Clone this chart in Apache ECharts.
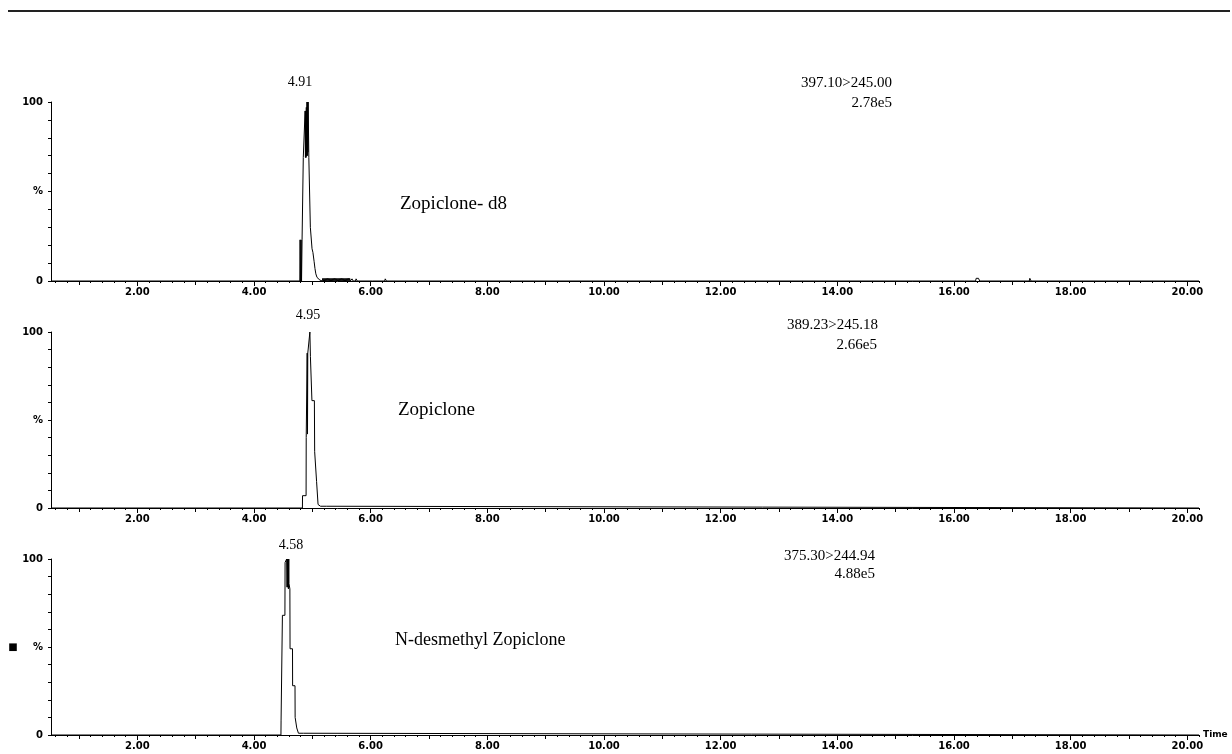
<!DOCTYPE html>
<html>
<head>
<meta charset="utf-8">
<script src="https://cdn.jsdelivr.net/npm/echarts@6/dist/echarts.min.js"></script>
<style>
html,body{margin:0;padding:0;background:#fff;}
#chart{width:1232px;height:754px;}
</style>
</head>
<body>
<div id="chart"></div>
<script>
// ---- data (time in min, relative intensity %) ----
const timeTicks = [2, 4, 6, 8, 10, 12, 14, 16, 18, 20];
const yTickLabels = { 0: '0', 50: '%', 100: '100' };

const compoundNames = ['Zopiclone- d8', 'Zopiclone', 'N-desmethyl Zopiclone'];
const peakTimes = ['4.91', '4.95', '4.58'];
const transitions = ['397.10>245.00', '389.23>245.18', '375.30>244.94'];
const maxIntensities = ['2.78e5', '2.66e5', '4.88e5'];

const zopicloneD8 = [
  [0.52,0],[4.785,0],[4.79,23],[4.798,0],[4.807,23],[4.815,0],[4.824,23],[4.84,23],[4.845,69],
  [4.872,69],[4.876,95],[4.882,69],[4.887,95],[4.893,69],[4.897,97],[4.903,70],[4.908,100],
  [4.914,70],[4.918,100],[4.924,72],[4.928,100],[4.935,100],[4.94,69],[4.962,69],[4.966,30],
  [4.99,30],[4.995,18],[5.01,16],[5.03,11],[5.045,7],[5.06,4],[5.08,2],[5.10,1],[5.13,0.5],
  [5.14,1.5],[5.15,0],[5.16,1.5],[5.17,0],[5.18,1.5],[5.19,0],[5.20,1.5],[5.21,0],[5.22,1.5],
  [5.23,0],[5.24,1.5],[5.25,0],[5.26,1.5],[5.27,0],[5.28,1.5],[5.29,0],[5.30,1.5],[5.31,0],
  [5.32,1.5],[5.33,0],[5.34,1.5],[5.35,0],[5.36,1.5],[5.37,0],[5.38,1.5],[5.39,0],[5.40,1.5],
  [5.41,0],[5.42,1.5],[5.43,0],[5.44,1.5],[5.45,0],[5.46,1.5],[5.47,0],[5.48,1.5],[5.49,0],
  [5.50,1.5],[5.51,0],[5.52,1.5],[5.53,0],[5.54,1.5],[5.55,0],[5.56,1.5],[5.57,0],[5.58,1.5],
  [5.59,0],[5.60,1.5],[5.61,0],[5.62,1.5],[5.63,0],[5.64,1.5],[5.65,0],
  [5.67,0],[5.68,1.2],[5.70,0],[5.74,0],[5.75,1.2],[5.77,0],[6.03,0],[6.04,1],[6.06,0],
  [6.24,0],[6.25,1.2],[6.27,0],[16.18,0],[16.19,0.8],[16.21,0],[16.37,0],[16.38,1.5],
  [16.42,1.5],[16.44,0],[17.29,0],[17.30,1.5],[17.32,0],[20.2,0]
];
const zopiclone = [
  [0.52,0],[4.79,0],[4.80,1],[4.82,1],[4.83,0],[4.832,7],[4.893,7],[4.895,40],[4.91,40],
  [4.912,88],[4.917,42],[4.922,88],[4.955,88],[4.958,100],[4.965,100],[4.967,86],[4.99,86],
  [4.993,61],[5.035,61],[5.04,32],[5.07,32],[5.073,15],[5.095,15],[5.098,2],[5.13,2],
  [5.14,1],[5.24,1],[5.25,0],[20.2,0]
];
const nDesmethylZopiclone = [
  [0.52,0],[4.462,0],[4.464,8],[4.485,8],[4.487,68],[4.53,68],[4.533,98],[4.555,98],
  [4.56,100],[4.566,84],[4.572,100],[4.578,84],[4.584,100],[4.59,83],[4.596,100],[4.60,86],
  [4.615,83],[4.618,49],[4.66,49],[4.662,28],[4.703,28],[4.705,10],[4.73,10],[4.733,4],
  [4.76,4],[4.762,1],[4.85,1],[4.86,0],[20.2,0]
];
const seriesData = [zopicloneD8, zopiclone, nDesmethylZopiclone];

// ---- layout ----
const xMin = 0.52, xMax = 20.2;
const grids = [
  { left: 51, right: 33, top: 102, height: 179 },
  { left: 51, right: 33, top: 332, height: 176 },
  { left: 51, right: 33, top: 559, height: 176 }
];
const minorTicks = [];
for (let i = 3; i <= 101; i++) { const v = +(i * 0.2).toFixed(2); if (v % 1 !== 0) minorTicks.push(v); }
const oddTicks = [1, 3, 5, 7, 9, 11, 13, 15, 17, 19];

const tickFont = { fontFamily: 'DejaVu Sans', fontWeight: 'bold', fontSize: 10, color: '#000' };

const xAxes = [], yAxes = [], series = [];
grids.forEach((g, i) => {
  xAxes.push({
    type: 'value', gridIndex: i, position: 'bottom', min: xMin, max: xMax,
    axisLine: { lineStyle: { color: '#000', width: 1 } },
    axisTick: { customValues: timeTicks, length: 5, lineStyle: { color: '#000' } },
    axisLabel: Object.assign({ customValues: timeTicks, formatter: v => v.toFixed(2), margin: 6 }, tickFont),
    splitLine: { show: false },
    name: i === 2 ? 'Time' : '', nameLocation: 'end', nameGap: 4,
    nameTextStyle: { fontFamily: 'DejaVu Sans', fontWeight: 'bold', fontSize: 9, color: '#000' }
  });
  xAxes.push({
    type: 'value', gridIndex: i, position: 'bottom', min: xMin, max: xMax,
    axisLine: { show: false },
    axisTick: { customValues: minorTicks, length: 2, lineStyle: { color: '#000' } },
    axisLabel: { show: false }, splitLine: { show: false }
  });
  xAxes.push({
    type: 'value', gridIndex: i, position: 'bottom', min: xMin, max: xMax,
    axisLine: { show: false },
    axisTick: { customValues: oddTicks, length: 4, lineStyle: { color: '#000' } },
    axisLabel: { show: false }, splitLine: { show: false }
  });
  yAxes.push({
    type: 'value', gridIndex: i, min: 0, max: 100, interval: 10,
    axisLine: { show: true, lineStyle: { color: '#000', width: 1 } },
    axisTick: { show: true, length: 3, lineStyle: { color: '#000' } },
    axisLabel: Object.assign({ margin: 8, formatter: v => (yTickLabels[v] !== undefined ? yTickLabels[v] : '') }, tickFont),
    splitLine: { show: false }
  });
  series.push({
    type: 'line', xAxisIndex: i * 3, yAxisIndex: i, data: seriesData[i],
    showSymbol: false, symbol: 'none', animation: false,
    lineStyle: { color: '#000', width: 1 }
  });
});

const serif = '"Liberation Serif", "Times New Roman", serif';
const txt = (x, y, text, size, align) => ({
  type: 'text', x: x, y: y, silent: true,
  style: { text: text, fill: '#000', font: size + 'px ' + serif, align: align || 'left', verticalAlign: 'middle' }
});

const graphics = [
  { type: 'line', shape: { x1: 8, y1: 11, x2: 1230, y2: 11 }, style: { stroke: '#222', lineWidth: 2 } },
  txt(300, 82, peakTimes[0], 14, 'center'),
  txt(892, 83, transitions[0], 15, 'right'),
  txt(892, 103, maxIntensities[0], 15, 'right'),
  txt(400, 204, compoundNames[0], 19),
  txt(308, 315, peakTimes[1], 14, 'center'),
  txt(878, 325, transitions[1], 15, 'right'),
  txt(877, 345, maxIntensities[1], 15, 'right'),
  txt(398, 410, compoundNames[1], 19),
  txt(291, 545, peakTimes[2], 14, 'center'),
  txt(875, 556, transitions[2], 15, 'right'),
  txt(875, 574, maxIntensities[2], 15, 'right'),
  txt(395, 640, compoundNames[2], 18),
  { type: 'text', x: 13, y: 647, silent: true,
    style: { text: '■', fill: '#000', font: 'bold 10px "DejaVu Sans"', align: 'center', verticalAlign: 'middle' } }
];

const chart = echarts.init(document.getElementById('chart'), null, { renderer: 'canvas' });
chart.setOption({
  backgroundColor: '#fff',
  animation: false,
  grid: grids,
  xAxis: xAxes,
  yAxis: yAxes,
  series: series,
  graphic: graphics
});
</script>
</body>
</html>
